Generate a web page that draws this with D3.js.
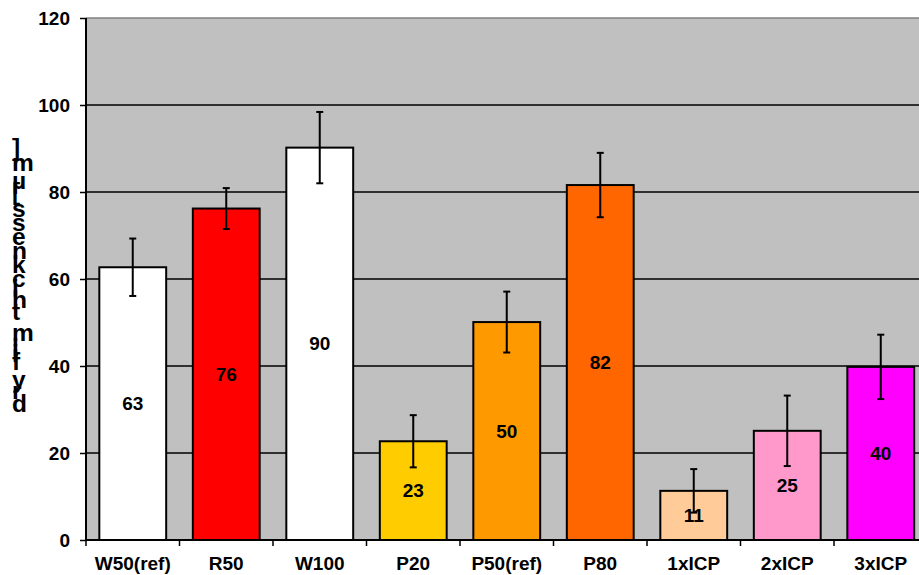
<!DOCTYPE html>
<html>
<head>
<meta charset="utf-8">
<script src="https://cdn.jsdelivr.net/npm/d3@7"></script>
<style>
  html, body { margin: 0; padding: 0; background: #fff; }
  svg { display: block; }
  text { font-family: "Liberation Sans", Arial, sans-serif; font-weight: bold; }
</style>
</head>
<body>
<svg id="chart" width="919" height="575"></svg>
<script>
// ---- data ----
const categories = ["W50(ref)", "R50", "W100", "P20", "P50(ref)", "P80", "1xICP", "2xICP", "3xICP"];
const values     = [62.7, 76.2, 90.2, 22.7, 50.1, 81.6, 11.3, 25.1, 39.8];
const errors     = [6.6, 4.7, 8.2, 6.0, 7.0, 7.4, 5.0, 8.1, 7.4];
const colors     = ["#FFFFFF", "#FF0000", "#FFFFFF", "#FFCC00", "#FF9900", "#FF6600", "#FFCC99", "#FF99CC", "#FF00FF"];
const yTicks     = [0, 20, 40, 60, 80, 100, 120];
const yLabel     = "dry film thickness [µm]";

// ---- layout ----
const svg = d3.select("#chart");
const pLeft = 86, pRight = 927.5, pTop = 18, pBottom = 540;

const x = d3.scaleBand().domain(categories).range([pLeft, pRight])
  .paddingInner(0.285).paddingOuter(0.1425);
const y = d3.scaleLinear().domain([0, 120]).range([pBottom, pTop]);

// plot background
svg.append("rect").attr("x", pLeft).attr("y", pTop)
  .attr("width", pRight - pLeft).attr("height", pBottom - pTop)
  .attr("fill", "#C0C0C0");

// gridlines
svg.append("g").selectAll("line").data(yTicks.filter(d => d > 0))
  .join("line")
  .attr("x1", pLeft).attr("x2", pRight)
  .attr("y1", d => y(d)).attr("y2", d => y(d))
  .attr("stroke", d => d === 120 ? "#808080" : "#000")
  .attr("stroke-width", 1.5);

// bars
svg.append("g").selectAll("rect").data(categories)
  .join("rect")
  .attr("x", d => x(d)).attr("width", x.bandwidth())
  .attr("y", (d, i) => y(values[i]))
  .attr("height", (d, i) => y(0) - y(values[i]))
  .attr("fill", (d, i) => colors[i])
  .attr("stroke", "#000").attr("stroke-width", 2);

// value labels
svg.append("g").selectAll("text").data(categories)
  .join("text")
  .attr("x", d => x(d) + x.bandwidth() / 2)
  .attr("y", (d, i) => (y(values[i]) + y(0)) / 2)
  .attr("dy", "0.35em")
  .attr("text-anchor", "middle")
  .attr("font-size", 19)
  .text((d, i) => Math.round(values[i]));

// error bars
const eb = svg.append("g").attr("stroke", "#000").attr("stroke-width", 2);
categories.forEach((c, i) => {
  const cx = x(c) + x.bandwidth() / 2;
  const hi = y(values[i] + errors[i]), lo = y(values[i] - errors[i]);
  eb.append("line").attr("x1", cx).attr("x2", cx).attr("y1", hi).attr("y2", lo);
  eb.append("line").attr("x1", cx - 3.5).attr("x2", cx + 3.5).attr("y1", hi).attr("y2", hi);
  eb.append("line").attr("x1", cx - 3.5).attr("x2", cx + 3.5).attr("y1", lo).attr("y2", lo);
});

// y axis
const yAxis = svg.append("g").attr("transform", `translate(${pLeft},0)`)
  .call(d3.axisLeft(y).tickValues(yTicks).tickSize(6).tickPadding(10));
yAxis.select(".domain").attr("stroke", "#000").attr("stroke-width", 2)
  .attr("d", `M0,${pTop}V${pBottom}`);
yAxis.selectAll(".tick line").attr("stroke", "#000").attr("stroke-width", 1.5);
yAxis.selectAll(".tick text").attr("font-size", 19).attr("fill", "#000")
  .attr("font-family", "Liberation Sans, Arial, sans-serif").attr("font-weight", "bold");

// x axis with ticks at category boundaries
const xAxisG = svg.append("g");
xAxisG.append("line").attr("x1", pLeft).attr("x2", pRight)
  .attr("y1", pBottom).attr("y2", pBottom).attr("stroke", "#000").attr("stroke-width", 2);
const step = x.step();
const bounds = d3.range(categories.length + 1).map(i => x(categories[0]) - x.paddingOuter() * step + i * step);
xAxisG.selectAll("line.tk").data(bounds).join("line").attr("class", "tk")
  .attr("x1", d => d).attr("x2", d => d)
  .attr("y1", pBottom).attr("y2", pBottom + 6)
  .attr("stroke", "#000").attr("stroke-width", 1.5);
xAxisG.selectAll("text").data(categories).join("text")
  .attr("x", d => x(d) + x.bandwidth() / 2)
  .attr("y", 570)
  .attr("text-anchor", "middle")
  .attr("font-size", 19)
  .text(d => d);

// y axis label: upright glyphs stacked bottom-to-top by their advance
const fontSize = 24.5;
const ctx = document.createElement("canvas").getContext("2d");
ctx.font = `bold ${fontSize}px "Liberation Sans", Arial, sans-serif`;
const chars = Array.from(yLabel);
const adv = chars.map(ch => ctx.measureText(ch).width);
const lbl = svg.append("g");
let pos = 0;
const firstCenter = 405;
chars.forEach((ch, i) => {
  const center = firstCenter - (pos + adv[i] / 2 - adv[0] / 2);
  pos += adv[i];
  if (ch === " ") return;
  lbl.append("text")
    .attr("x", 12)
    .attr("y", center + 6.5)
    .attr("font-size", fontSize)
    .attr("text-anchor", "start")
    .text(ch);
});
</script>
</body>
</html>
